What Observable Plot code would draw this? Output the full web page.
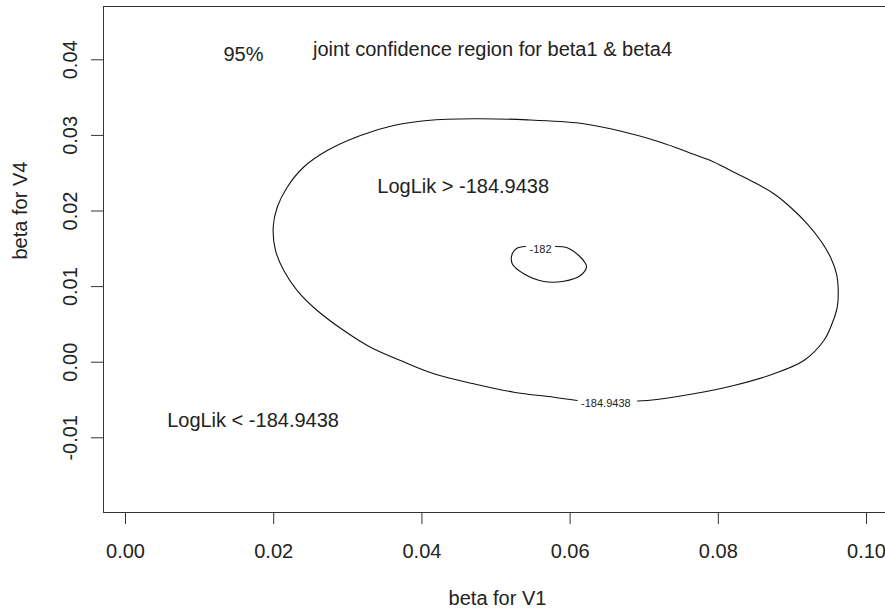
<!DOCTYPE html>
<html>
<head>
<meta charset="utf-8">
<script src="https://cdn.jsdelivr.net/npm/d3@7"></script>
<script src="https://cdn.jsdelivr.net/npm/@observablehq/plot@0.6"></script>
<style>
  html, body { margin: 0; padding: 0; background: #fff; }
  #chart { width: 885px; height: 609px; }
</style>
</head>
<body>
<div id="chart"></div>
<script>
// ---- data ----
// Outer contour, LogLik = -184.9438 (open where its label sits)
const outerX = [0.06910, 0.07040, 0.07669, 0.08209, 0.08749, 0.09154, 0.09424, 0.09534, 0.09605, 0.09618,
                0.09595, 0.09514, 0.09379, 0.09200, 0.08974, 0.08749, 0.08479, 0.08165, 0.07895, 0.07625,
                0.07220, 0.06545, 0.06140, 0.05421, 0.04696, 0.04071,
                0.03617, 0.03171, 0.02722, 0.02402, 0.02182, 0.02047, 0.01993, 0.02024, 0.02136, 0.02317,
                0.02587, 0.02946, 0.03306, 0.03711, 0.04161, 0.04700, 0.05240, 0.05780, 0.06096];
const outerY = [-0.00513, -0.00507, -0.00418, -0.00308, -0.00153, 0.00022, 0.00287, 0.00508, 0.00728, 0.00948,
                0.01169, 0.01389, 0.01610, 0.01831, 0.02050, 0.02228, 0.02381, 0.02536, 0.02668, 0.02765,
                0.02910, 0.03087, 0.03161, 0.03206, 0.03220, 0.03197,
                0.03131, 0.02999, 0.02800, 0.02579, 0.02315, 0.02050, 0.01786, 0.01478, 0.01213, 0.00948,
                0.00684, 0.00419, 0.00198, 0.00022, -0.00153, -0.00286, -0.00397, -0.00463, -0.00507];
// Inner contour, LogLik = -182
const innerX = [0.05803, 0.05961, 0.06117, 0.06208, 0.06221, 0.06140, 0.05915, 0.05645, 0.05375, 0.05219,
                0.05219, 0.05277, 0.05398];
const innerY = [0.01530, 0.01513, 0.01411, 0.01306, 0.01257, 0.01147, 0.01071, 0.01067, 0.01169, 0.01302,
                0.01434, 0.01504, 0.01530];

// contour labels
const contourLabels = ["-184.9438", "-182"];
const contourLabelX = [0.06482, 0.05601];
const contourLabelY = [-0.00546, 0.01495];

// annotations
const noteText = ["95%", "joint confidence region for beta1 & beta4", "LogLik > -184.9438", "LogLik < -184.9438"];
const noteX = [0.01592, 0.04953, 0.04557, 0.01721];
const noteY = [0.04070, 0.04136, 0.02324, -0.00767];

// axes
const xTicks = [0, 0.02, 0.04, 0.06, 0.08, 0.10];
const xTickLabels = ["0.00", "0.02", "0.04", "0.06", "0.08", "0.10"];
const yTicks = [-0.01, 0, 0.01, 0.02, 0.03, 0.04];
const yTickLabels = ["-0.01", "0.00", "0.01", "0.02", "0.03", "0.04"];
const xTitle = "beta for V1";
const yTitle = "beta for V4";
const xDomain = [-0.00297, 0.10256];
const yDomain = [-0.01988, 0.04705];

// ---- tables built from the arrays ----
const outer = outerX.map((x, i) => ({x, y: outerY[i]}));
const inner = innerX.map((x, i) => ({x, y: innerY[i]}));
const clabels = contourLabels.map((t, i) => ({t, x: contourLabelX[i], y: contourLabelY[i]}));
const notes = noteText.map((t, i) => ({t, x: noteX[i], y: noteY[i]}));
const xLab = new Map(xTicks.map((v, i) => [v, xTickLabels[i]]));
const yTickData = yTicks.map((v, i) => ({v, t: yTickLabels[i]}));

const ink = "#222";
const font = "'Liberation Sans', Arial, sans-serif";

const chart = Plot.plot({
  width: 885,
  height: 609,
  marginLeft: 103,
  marginRight: 0,
  marginTop: 6,
  marginBottom: 97,
  style: {fontFamily: font, fontSize: "20px", background: "#fff", color: ink, overflow: "visible"},
  x: {domain: xDomain, axis: null},
  y: {domain: yDomain, axis: null},
  marks: [
    // box (left, top, bottom sides; the right side lies beyond the picture)
    Plot.ruleX([xDomain[0]], {stroke: "#333", strokeWidth: 1}),
    Plot.ruleY([yDomain[0], yDomain[1]], {stroke: "#333", strokeWidth: 1}),
    // x axis
    Plot.axisX({ticks: xTicks, tickSize: 12, tickPadding: 19, tickFormat: d => xLab.get(d),
                label: null, fontSize: 20, stroke: "#333", fill: ink}),
    // y axis ticks
    Plot.axisY({ticks: yTicks, tickSize: 12, tickFormat: () => "", label: null, stroke: "#333"}),
    // y tick labels (parallel to axis, as in R)
    Plot.text(yTickData, {y: "v", text: "t", frameAnchor: "left", dx: -33, rotate: -90,
                          lineAnchor: "middle", textAnchor: "middle", fontSize: 20, fill: ink}),
    // axis titles
    Plot.text([xTitle], {frameAnchor: "bottom", dx: 3, dy: 86, lineAnchor: "middle", fontSize: 20, fill: ink}),
    Plot.text([yTitle], {frameAnchor: "left", dx: -83, rotate: -90, lineAnchor: "middle", fontSize: 20, fill: ink}),
    // contours
    Plot.line(outer, {x: "x", y: "y", stroke: "#111", strokeWidth: 1.1, curve: "catmull-rom"}),
    Plot.line(inner, {x: "x", y: "y", stroke: "#111", strokeWidth: 1.1, curve: "catmull-rom"}),
    Plot.text(clabels, {x: "x", y: "y", text: "t", fontSize: 11, fill: ink, lineAnchor: "middle"}),
    // annotations
    Plot.text(notes, {x: "x", y: "y", text: "t", fontSize: 20, fill: ink, lineAnchor: "middle"})
  ]
});
document.getElementById("chart").appendChild(chart);
</script>
</body>
</html>
